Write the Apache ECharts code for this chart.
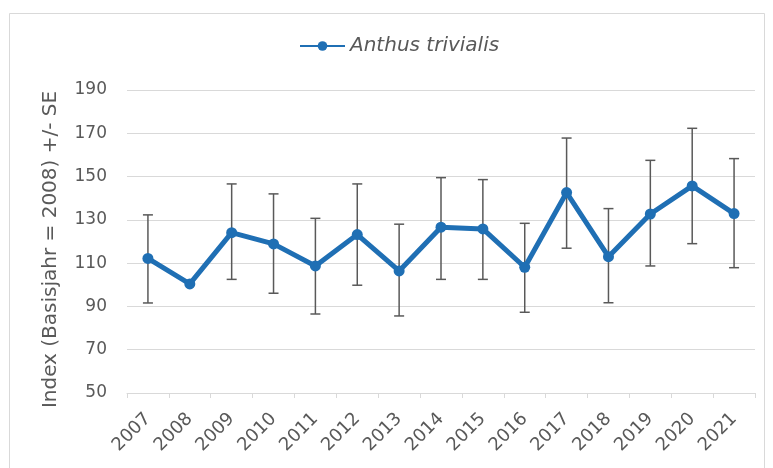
<!DOCTYPE html>
<html>
<head>
<meta charset="utf-8">
<script src="https://cdn.jsdelivr.net/npm/echarts@6/dist/echarts.min.js"></script>
<style>
  html, body { margin: 0; padding: 0; background: #ffffff; }
  #chart { width: 773px; height: 468px; }
</style>
</head>
<body>
<div id="chart"></div>
<script>
// Brutvogel-Index Baumpieper (Basisjahr 2008 = 100) mit Standardfehler
const years = ['2007', '2008', '2009', '2010', '2011', '2012', '2013', '2014',
               '2015', '2016', '2017', '2018', '2019', '2020', '2021'];
const indexValues = [112.2, 100.4, 124.1, 118.9, 108.7, 123.2, 106.4, 126.6,
                     125.8, 108.1, 142.6, 113.0, 132.7, 145.7, 132.9];
const seUpper = [132.3, null, 146.6, 142.0, 130.7, 146.6, 128.0, 149.5,
                 148.6, 128.4, 167.8, 135.2, 157.5, 172.3, 158.3];
const seLower = [91.6, null, 102.5, 96.1, 86.5, 99.8, 85.6, 102.5,
                 102.5, 87.3, 116.9, 91.7, 108.7, 119.0, 107.9];
const yTicks = { min: 50, max: 190, step: 20 };
const seriesName = 'Anthus trivialis';

const errorData = [];
years.forEach((y, i) => {
  if (seUpper[i] != null) errorData.push([i, seLower[i], seUpper[i]]);
});

const textColor = '#595959';
const lineColor = '#1f6fb4';
const fontFamily = '"DejaVu Sans", Verdana, sans-serif';

const chart = echarts.init(document.getElementById('chart'), null, { renderer: 'canvas' });
chart.setOption({
  backgroundColor: '#ffffff',
  animation: false,
  graphic: [{
    type: 'rect',
    shape: { x: 9.5, y: 13.5, width: 755, height: 470 },
    style: { fill: 'none', stroke: '#d9d9d9', lineWidth: 1 },
    silent: true
  }],
  legend: {
    top: 31,
    left: 294,
    itemWidth: 45,
    itemHeight: 12,
    itemGap: 5,
    data: [seriesName],
    textStyle: { color: textColor, fontSize: 20, fontStyle: 'italic', fontFamily: fontFamily }
  },
  grid: { left: 127, right: 18, top: 90, bottom: 75, containLabel: false },
  xAxis: {
    type: 'category',
    data: years,
    boundaryGap: true,
    axisLine: { show: true, lineStyle: { color: '#d9d9d9', width: 1 } },
    axisTick: { show: true, length: 5, lineStyle: { color: '#d9d9d9' } },
    axisLabel: { rotate: 45, color: textColor, fontSize: 18, fontFamily: fontFamily, margin: 23, interval: 0 },
    splitLine: { show: false }
  },
  yAxis: {
    type: 'value',
    min: yTicks.min,
    max: yTicks.max,
    interval: yTicks.step,
    name: 'Index (Basisjahr = 2008) +/- SE',
    nameLocation: 'middle',
    nameGap: 66,
    nameTextStyle: { color: textColor, fontSize: 20, fontFamily: fontFamily, padding: [0, 16, 0, 0] },
    axisLine: { show: false },
    axisTick: { show: false },
    axisLabel: { color: textColor, fontSize: 17, fontFamily: fontFamily, margin: 20 },
    splitLine: { lineStyle: { color: '#d9d9d9', width: 1 } }
  },
  series: [
    {
      name: 'SE',
      type: 'custom',
      data: errorData,
      z: 2,
      renderItem: function (params, api) {
        const xi = api.value(0);
        const lo = api.coord([xi, api.value(1)]);
        const hi = api.coord([xi, api.value(2)]);
        const cap = 5;
        const st = { stroke: '#595959', lineWidth: 1.5 };
        return {
          type: 'group',
          children: [
            { type: 'line', shape: { x1: hi[0], y1: hi[1], x2: lo[0], y2: lo[1] }, style: st },
            { type: 'line', shape: { x1: hi[0] - cap, y1: hi[1], x2: hi[0] + cap, y2: hi[1] }, style: st },
            { type: 'line', shape: { x1: lo[0] - cap, y1: lo[1], x2: lo[0] + cap, y2: lo[1] }, style: st }
          ]
        };
      }
    },
    {
      name: seriesName,
      type: 'line',
      data: indexValues,
      z: 3,
      symbol: 'circle',
      symbolSize: 11,
      lineStyle: { color: lineColor, width: 5 },
      itemStyle: { color: lineColor }
    }
  ]
});
</script>
</body>
</html>
